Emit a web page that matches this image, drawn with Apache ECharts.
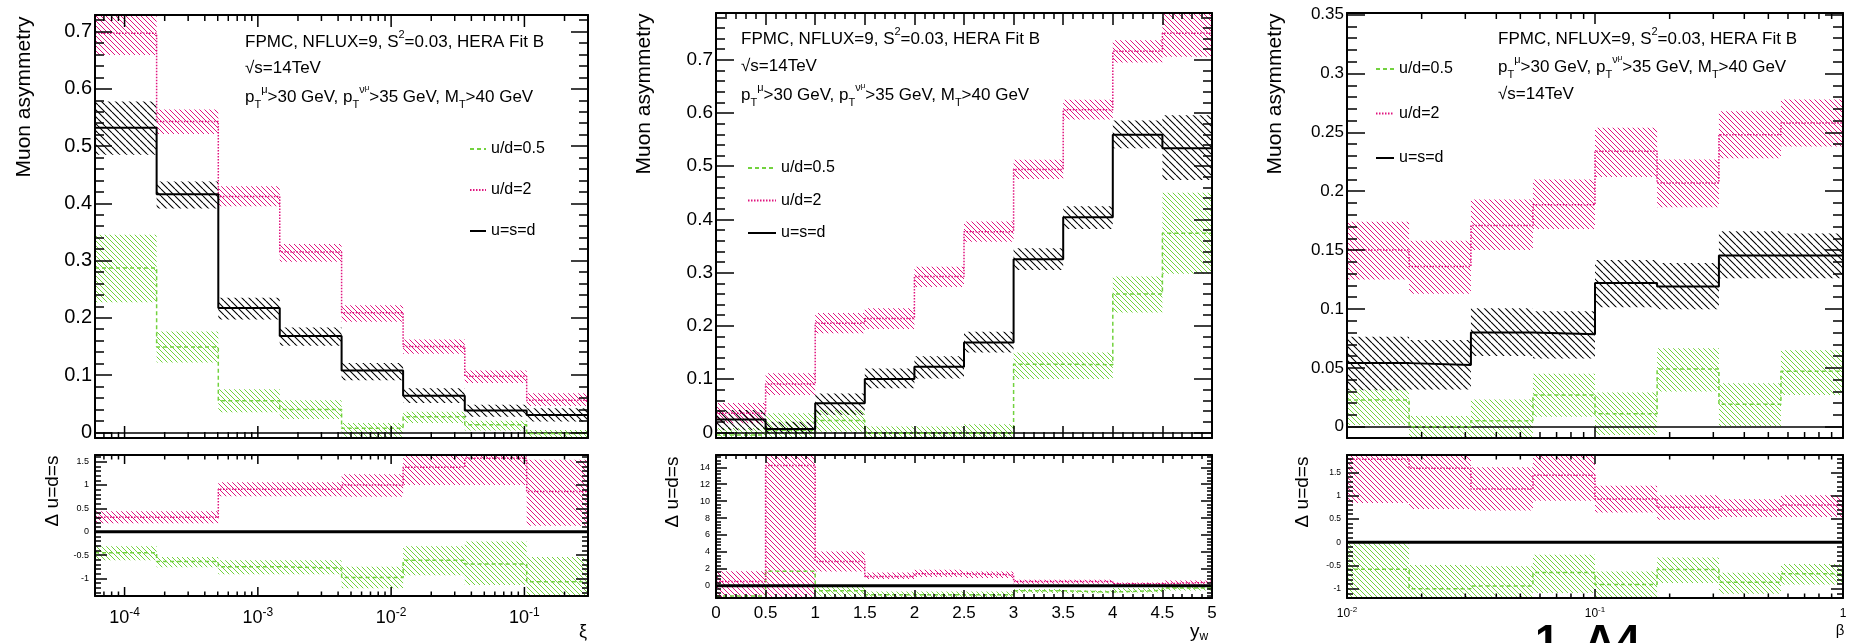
<!DOCTYPE html>
<html>
<head>
<meta charset="utf-8">
<script src="https://cdn.jsdelivr.net/npm/echarts@6/dist/echarts.min.js"></script>
<style>
html,body{margin:0;padding:0;background:#fff;}
#chart{width:1854px;height:643px;}
</style>
</head>
<body>
<div id="chart"></div>
<script>
// ---- xi panel (log x) ----
var xiEdges = [6e-5, 1.74e-4, 5.05e-4, 1.46e-3, 4.25e-3, 1.23e-2, 3.57e-2, 1.04e-1, 3e-1];
var xiSym    = [0.532, 0.416, 0.217, 0.168, 0.108, 0.064, 0.038, 0.030];
var xiSymLo  = [0.485, 0.391, 0.197, 0.151, 0.091, 0.051, 0.027, 0.019];
var xiSymHi  = [0.578, 0.438, 0.235, 0.183, 0.121, 0.077, 0.048, 0.042];
var xiUd2    = [0.697, 0.543, 0.412, 0.315, 0.209, 0.150, 0.098, 0.056];
var xiUd2Lo  = [0.659, 0.521, 0.395, 0.298, 0.193, 0.137, 0.086, 0.046];
var xiUd2Hi  = [0.745, 0.564, 0.430, 0.329, 0.222, 0.162, 0.108, 0.068];
var xiUd05   = [0.287, 0.149, 0.055, 0.040, 0.007, 0.027, 0.013, -0.002];
var xiUd05Lo = [0.227, 0.122, 0.035, 0.023, -0.008, 0.016, 0.003, -0.010];
var xiUd05Hi = [0.345, 0.176, 0.075, 0.056, 0.016, 0.036, 0.020, 0.004];
var xiRSym    = [0, 0, 0, 0, 0, 0, 0, 0];
var xiRUd2    = [0.31, 0.31, 0.91, 0.91, 1.00, 1.38, 1.57, 0.86];
var xiRUd2Lo  = [0.18, 0.18, 0.76, 0.76, 0.75, 1.00, 1.00, 0.13];
var xiRUd2Hi  = [0.44, 0.44, 1.06, 1.06, 1.23, 1.75, 1.75, 1.54];
var xiRUd05   = [-0.45, -0.64, -0.75, -0.78, -0.98, -0.61, -0.69, -1.07];
var xiRUd05Lo = [-0.61, -0.76, -0.91, -0.91, -1.21, -0.93, -1.14, -1.45];
var xiRUd05Hi = [-0.31, -0.54, -0.61, -0.61, -0.75, -0.31, -0.21, -0.54];

// ---- y_W panel (linear x) ----
var ywEdges = [0, 0.5, 1, 1.5, 2, 2.5, 3, 3.5, 4, 4.5, 5];
var ywSym    = [0.024, 0.006, 0.0545, 0.100, 0.123, 0.169, 0.325, 0.404, 0.559, 0.534];
var ywSymLo  = [0.004, -0.002, 0.033, 0.083, 0.101, 0.150, 0.305, 0.382, 0.534, 0.474];
var ywSymHi  = [0.042, 0.020, 0.073, 0.120, 0.143, 0.189, 0.346, 0.425, 0.586, 0.596];
var ywUd2    = [0.036, 0.091, 0.205, 0.214, 0.293, 0.377, 0.494, 0.606, 0.716, 0.750];
var ywUd2Lo  = [0.017, 0.070, 0.186, 0.194, 0.273, 0.358, 0.476, 0.588, 0.695, 0.706];
var ywUd2Hi  = [0.055, 0.111, 0.224, 0.233, 0.311, 0.396, 0.512, 0.625, 0.737, 0.800];
var ywUd05   = [-0.005, 0.004, 0.022, -0.002, -0.002, -0.002, 0.128, 0.127, 0.260, 0.374];
var ywUd05Lo = [-0.012, -0.012, 0.001, -0.012, -0.012, -0.012, 0.100, 0.100, 0.225, 0.298];
var ywUd05Hi = [0.008, 0.036, 0.042, 0.011, 0.011, 0.015, 0.150, 0.150, 0.293, 0.450];
var ywRSym    = [0, 0, 0, 0, 0, 0, 0, 0, 0, 0];
var ywRUd2    = [0.5, 14.2, 2.87, 1.1, 1.42, 1.3, 0.51, 0.5, 0.24, 0.4];
var ywRUd2Lo  = [-1.45, -1.45, 1.69, 0.79, 1.02, 0.9, 0.24, 0.24, 0.08, 0.12];
var ywRUd2Hi  = [1.7, 16, 4.05, 1.57, 1.89, 1.69, 0.7, 0.7, 0.39, 0.63];
var ywRUd05   = [-1.2, 1.7, -0.6, -1.06, -1.06, -1.06, -0.59, -0.75, -0.55, -0.28];
var ywRUd05Lo = [-1.45, -1.45, -1.26, -1.45, -1.45, -1.45, -0.87, -0.9, -0.79, -0.55];
var ywRUd05Hi = [-0.28, 1.9, -0.08, -0.67, -0.67, -0.67, -0.39, -0.55, -0.28, -0.08];

// ---- beta panel (log x) ----
var btEdges = [0.01, 0.0178, 0.0316, 0.0562, 0.1, 0.178, 0.316, 0.562, 1];
var btSym    = [0.054, 0.0524, 0.080, 0.0785, 0.122, 0.119, 0.1454, 0.1454];
var btSymLo  = [0.031, 0.0317, 0.060, 0.058, 0.1015, 0.0998, 0.126, 0.126];
var btSymHi  = [0.0765, 0.0737, 0.1006, 0.098, 0.1417, 0.139, 0.166, 0.164];
var btUd2    = [0.150, 0.136, 0.171, 0.1885, 0.234, 0.207, 0.248, 0.258];
var btUd2Lo  = [0.125, 0.113, 0.150, 0.168, 0.212, 0.1865, 0.228, 0.238];
var btUd2Hi  = [0.174, 0.158, 0.193, 0.210, 0.254, 0.227, 0.268, 0.278];
var btUd05   = [0.0227, 0.0, 0.005, 0.027, 0.011, 0.049, 0.019, 0.047];
var btUd05Lo = [0.0014, -0.010, -0.010, 0.0085, -0.007, 0.030, 0.0006, 0.027];
var btUd05Hi = [0.0317, 0.009, 0.023, 0.045, 0.029, 0.0666, 0.037, 0.065];
var btRSym    = [0, 0, 0, 0, 0, 0, 0, 0];
var btRUd2    = [1.78, 1.59, 1.14, 1.44, 0.93, 0.75, 0.69, 0.80];
var btRUd2Lo  = [0.84, 0.71, 0.68, 0.89, 0.64, 0.48, 0.54, 0.54];
var btRUd2Hi  = [1.95, 1.85, 1.61, 1.95, 1.21, 1.01, 0.92, 1.01];
var btRUd05   = [-0.58, -1.0, -0.94, -0.65, -0.91, -0.59, -0.86, -0.68];
var btRUd05Lo = [-1.25, -1.25, -1.25, -1.09, -1.25, -0.88, -1.11, -0.91];
var btRUd05Hi = [-0.02, -0.49, -0.52, -0.27, -0.63, -0.33, -0.66, -0.47];

var NAMES = ['u/d=0.5', 'u/d=2', 'u=s=d'];

var FONT = '"Liberation Sans", Arial, sans-serif';
var PINK = '#e0157f', GREEN = '#72d23e';

// diagonal hatch fill like ROOT fill style 3004/3005
function hatch(color, step, lw) {
	var c = document.createElement('canvas');
	c.width = step; c.height = step;
	var g = c.getContext('2d');
	g.strokeStyle = color; g.lineWidth = lw;
	g.beginPath();
	for (var k = -step; k <= step; k += step) { g.moveTo(k, 0); g.lineTo(k + step, step); }
	g.stroke();
	return {image: c, repeat: 'repeat'};
}
var fillBlack = hatch('#000', 7, 1.1);
var fillPink = hatch(PINK, 5, 1);
var fillGreen = hatch(GREEN, 5, 1);

var grids = [
	{left: 95, top: 15, width: 493, height: 423},
	{left: 95, top: 455, width: 493, height: 141},
	{left: 716, top: 13, width: 496, height: 425},
	{left: 716, top: 455, width: 496, height: 143},
	{left: 1347, top: 13, width: 496, height: 425},
	{left: 1347, top: 455, width: 496, height: 143}
];

function numLabel(step) {
	return function (v) {
		var r = v / step;
		if (Math.abs(r - Math.round(r)) > 1e-6) return '';
		return String(parseFloat(v.toFixed(6)));
	};
}
function powLabel(v) {
	var l = Math.log(v) / Math.LN10, e = Math.round(l);
	if (Math.abs(l - e) > 1e-6) return '';
	return e === 0 ? '{b|1}' : '{b|10}{s|' + e + '}';
}

var xAxes = [], yAxes = [];
// x axis settings per grid
var xs = [
	{type: 'log', min: 6e-5, max: 0.3, lab: false},
	{type: 'log', min: 6e-5, max: 0.3, lab: true, fs: 18, ss: 12, margin: 11},
	{type: 'value', min: 0, max: 5, lab: false, tl: 12, ml: 6},
	{type: 'value', min: 0, max: 5, lab: true, fs: 17, margin: 7, tl: 8, ml: 4},
	{type: 'log', min: 0.01, max: 1, lab: false},
	{type: 'log', min: 0.01, max: 1, lab: true, fs: 12, ss: 8, margin: 8}
];
var ysx = [
	{min: -0.01, max: 0.729, split: 7, step: 0.1, fs: 20, margin: 3, tl: 17, ml: 9},
	{min: -1.376, max: 1.642, split: 6, step: 0.5, fs: 9, margin: 6, tl: 12, ml: 6},
	{min: -0.0107, max: 0.788, split: 8, step: 0.1, fs: 19, margin: 3, tl: 18, ml: 9},
	{min: -1.45, max: 15.45, split: 8, step: 2, fs: 9, margin: 6, tl: 11, ml: 5},
	{min: -0.0096, max: 0.3514, split: 7, step: 0.05, fs: 17, margin: 3, tl: 18, ml: 10},
	{min: -1.20, max: 1.873, split: 6, step: 0.5, fs: 8.5, margin: 6, tl: 12, ml: 6}
];
var frame = {show: true, onZero: false, lineStyle: {color: '#000', width: 2}};
for (var g = 0; g < 6; g++) {
	var a = xs[g];
	for (var m = 0; m < 2; m++) {
		var ax = {
			gridIndex: g, type: a.type, min: a.min, max: a.max, z: 10,
			position: m ? 'top' : 'bottom',
			axisLine: frame, splitLine: {show: false},
			axisTick: {show: a.type === 'value', inside: true, length: a.tl, lineStyle: {color: '#000', width: 1.5}},
			minorTick: {show: a.type === 'value', splitNumber: 5, length: a.ml, lineStyle: {color: '#000', width: 1.5}},
			axisLabel: {show: false}
		};
		if (a.type === 'log') ax.logBase = 10;
		if (a.type === 'value') ax.interval = 0.5;
		if (a.lab && !m) {
			ax.axisLabel = {show: true, color: '#000', fontFamily: FONT, fontSize: a.fs, margin: a.margin, showMinLabel: true, showMaxLabel: true};
			if (a.type === 'log') {
				ax.axisLabel.formatter = powLabel;
				ax.axisLabel.rich = {
					b: {fontSize: a.fs, fontFamily: FONT, color: '#000', lineHeight: a.fs + 4},
					s: {fontSize: a.ss, fontFamily: FONT, color: '#000', verticalAlign: 'top', lineHeight: a.ss}
				};
			}
		}
		xAxes.push(ax);
	}
	var b = ysx[g];
	for (m = 0; m < 2; m++) {
		yAxes.push({
			gridIndex: g, type: 'value', min: b.min, max: b.max, splitNumber: b.split, z: 10,
			position: m ? 'right' : 'left',
			axisLine: frame, splitLine: {show: false},
			axisTick: {inside: true, length: b.tl, lineStyle: {color: '#000', width: 1.5}},
			minorTick: {show: true, splitNumber: 5, length: b.ml, lineStyle: {color: '#000', width: 1.5}},
			axisLabel: m ? {show: false} : {color: '#000', fontFamily: FONT, fontSize: b.fs, margin: b.margin, formatter: numLabel(b.step)}
		});
	}
}

function band(g, edges, lo, hi, fill) {
	var d = [];
	for (var i = 0; i < lo.length; i++) d.push([edges[i], edges[i + 1], lo[i], hi[i]]);
	return {
		type: 'custom', xAxisIndex: 2 * g, yAxisIndex: 2 * g, silent: true, z: 2,
		encode: {x: [0, 1], y: [2, 3]}, data: d,
		renderItem: function (params, api) {
			var p0 = api.coord([api.value(0), api.value(3)]);
			var p1 = api.coord([api.value(1), api.value(2)]);
			var cs = params.coordSys;
			var r = echarts.graphic.clipRectByRect(
				{x: p0[0], y: p0[1], width: p1[0] - p0[0], height: p1[1] - p0[1]},
				{x: cs.x, y: cs.y, width: cs.width, height: cs.height});
			return r ? {type: 'rect', shape: r, style: {fill: fill}} : null;
		}
	};
}

function step(g, name, edges, vals, color, type, width) {
	var d = [];
	for (var i = 0; i < vals.length; i++) d.push([edges[i], vals[i]]);
	d.push([edges[vals.length], vals[vals.length - 1]]);
	return {
		type: 'line', name: name, xAxisIndex: 2 * g, yAxisIndex: 2 * g, data: d,
		step: 'end', symbol: 'none', showSymbol: false, z: 5, clip: true, silent: true,
		lineStyle: {color: color, type: type, width: width}, itemStyle: {color: color}
	};
}

// log-axis major/minor ticks on bottom and top edges of a grid
function logTicks(g, lo, hi, lMaj, lMin) {
	var d = [];
	for (var e = Math.floor(Math.log10(lo)); e <= Math.ceil(Math.log10(hi)); e++) {
		for (var k = 1; k < 10; k++) {
			var v = k * Math.pow(10, e);
			if (v > lo * 1.0001 && v < hi * 0.9999) d.push([v, k === 1 ? 1 : 0]);
		}
	}
	return {
		type: 'custom', xAxisIndex: 2 * g, yAxisIndex: 2 * g, silent: true, z: 20,
		encode: {x: 0}, data: d,
		renderItem: function (params, api) {
			var x = api.coord([api.value(0), 0])[0];
			var cs = params.coordSys;
			var L = api.value(1) ? lMaj : lMin;
			var st = {stroke: '#000', lineWidth: 1.5};
			return {type: 'group', children: [
				{type: 'line', shape: {x1: x, y1: cs.y + cs.height, x2: x, y2: cs.y + cs.height - L}, style: st},
				{type: 'line', shape: {x1: x, y1: cs.y, x2: x, y2: cs.y + L}, style: st}
			]};
		}
	};
}

var zeroLine = {symbol: 'none', silent: true, label: {show: false}, lineStyle: {color: '#000', width: 1.5, type: 'solid'}, data: [{yAxis: 0}]};

var panels = [
	[xiEdges, [xiUd05, xiUd05Lo, xiUd05Hi], [xiUd2, xiUd2Lo, xiUd2Hi], [xiSym, xiSymLo, xiSymHi],
		[xiRUd05, xiRUd05Lo, xiRUd05Hi], [xiRUd2, xiRUd2Lo, xiRUd2Hi], xiRSym],
	[ywEdges, [ywUd05, ywUd05Lo, ywUd05Hi], [ywUd2, ywUd2Lo, ywUd2Hi], [ywSym, ywSymLo, ywSymHi],
		[ywRUd05, ywRUd05Lo, ywRUd05Hi], [ywRUd2, ywRUd2Lo, ywRUd2Hi], ywRSym],
	[btEdges, [btUd05, btUd05Lo, btUd05Hi], [btUd2, btUd2Lo, btUd2Hi], [btSym, btSymLo, btSymHi],
		[btRUd05, btRUd05Lo, btRUd05Hi], [btRUd2, btRUd2Lo, btRUd2Hi], btRSym]
];

var series = [];
var lines = [], bands = [];
panels.forEach(function (p, i) {
	var gm = 2 * i, gr = 2 * i + 1, ed = p[0];
	bands.push(band(gm, ed, p[1][1], p[1][2], fillGreen));
	bands.push(band(gm, ed, p[2][1], p[2][2], fillPink));
	bands.push(band(gm, ed, p[3][1], p[3][2], fillBlack));
	bands.push(band(gr, ed, p[4][1], p[4][2], fillGreen));
	bands.push(band(gr, ed, p[5][1], p[5][2], fillPink));
	lines.push(step(gm, NAMES[0], ed, p[1][0], GREEN, [4, 3], 1.5));
	lines.push(step(gm, NAMES[1], ed, p[2][0], PINK, [1.5, 1.5], 1.5));
	var s = step(gm, NAMES[2], ed, p[3][0], '#000', 'solid', 2);
	s.markLine = zeroLine;
	lines.push(s);
});
panels.forEach(function (p, i) {
	var gr = 2 * i + 1, ed = p[0];
	lines.push(step(gr, NAMES[0], ed, p[4][0], GREEN, [4, 3], 1.5));
	lines.push(step(gr, NAMES[1], ed, p[5][0], PINK, [1.5, 1.5], 1.5));
	lines.push(step(gr, NAMES[2], ed, p[6], '#000', 'solid', 3));
});
series = lines.concat(bands);
series.push(logTicks(0, 6e-5, 0.3, 12, 6));
series.push(logTicks(1, 6e-5, 0.3, 9, 4.5));
series.push(logTicks(4, 0.01, 1, 11, 6));
series.push(logTicks(5, 0.01, 1, 9, 4.5));

function legend(left, top, w, gap) {
	return {
		data: NAMES, left: left, top: top, orient: 'vertical', itemWidth: w, itemHeight: 14,
		itemGap: gap, selectedMode: false, padding: 0,
		itemStyle: {opacity: 0},
		textStyle: {fontSize: 16, fontFamily: FONT, color: '#000'}
	};
}

var rich = {
	sup: {fontSize: 11, fontFamily: FONT, verticalAlign: 'top', lineHeight: 11},
	sub: {fontSize: 11, fontFamily: FONT, verticalAlign: 'bottom', lineHeight: 11},
	sub2: {fontSize: 8, fontFamily: FONT, verticalAlign: 'top', lineHeight: 16}
};
function note(x, y, text) {
	return {type: 'text', x: x, y: y, silent: true, style: {
		text: text, fontSize: 17, fontFamily: FONT, fill: '#000', lineHeight: 26,
		verticalAlign: 'middle', align: 'left', rich: rich}};
}
function vtitle(x, y, text, fs) {
	return {type: 'text', x: x, y: y, rotation: Math.PI / 2, silent: true, style: {
		text: text, fontSize: fs, fontFamily: FONT, fill: '#000', align: 'center', verticalAlign: 'middle'}};
}
var L1 = 'FPMC, NFLUX=9, S{sup|2}=0.03, HERA Fit B';
var L2 = '√s=14TeV';
var L3 = 'p{sub|T}{sup|μ}>30 GeV, p{sub|T}{sup|ν}{sub2|μ}>35 GeV, M{sub|T}>40 GeV';

var graphics = [
	note(245, 42, L1), note(245, 68, L2), note(245, 97, L3),
	note(741, 39, L1), note(741, 66, L2), note(741, 95, L3),
	note(1498, 39, L1), note(1498, 67, L3), note(1498, 94, L2),
	vtitle(24, 97, 'Muon asymmetry', 21), vtitle(644, 94, 'Muon asymmetry', 21), vtitle(1275, 94, 'Muon asymmetry', 21),
	vtitle(53, 491, 'Δ u=d=s', 19), vtitle(673, 492, 'Δ u=d=s', 19), vtitle(1303, 492, 'Δ u=d=s', 19),
	{type: 'text', x: 583, y: 632, silent: true, style: {text: 'ξ', fontSize: 18, fontFamily: FONT, fill: '#000', align: 'center', verticalAlign: 'middle'}},
	{type: 'text', x: 1190, y: 632, silent: true, style: {text: 'y{w|w}', fontSize: 19, fontFamily: FONT, fill: '#000', align: 'left', verticalAlign: 'middle', lineHeight: 22,
		rich: {w: {fontSize: 12, fontFamily: FONT, verticalAlign: 'bottom', lineHeight: 12}}}},
	{type: 'text', x: 1840, y: 631, silent: true, style: {text: 'β', fontSize: 15, fontFamily: FONT, fill: '#000', align: 'center', verticalAlign: 'middle'}},
	{type: 'text', x: 1535, y: 622, silent: true, style: {text: '1  A4', fontSize: 44, fontWeight: 'bold', fontFamily: FONT, fill: '#000', align: 'left', verticalAlign: 'top'}}
];

var chart = echarts.init(document.getElementById('chart'), null, {renderer: 'canvas'});
chart.setOption({
	animation: false,
	backgroundColor: '#fff',
	grid: grids,
	xAxis: xAxes,
	yAxis: yAxes,
	legend: [legend(469, 141, 16, 25), legend(747, 160, 28, 16.5), legend(1375, 61, 18, 28.5)],
	series: series,
	graphic: graphics
});
</script>
</body>
</html>
